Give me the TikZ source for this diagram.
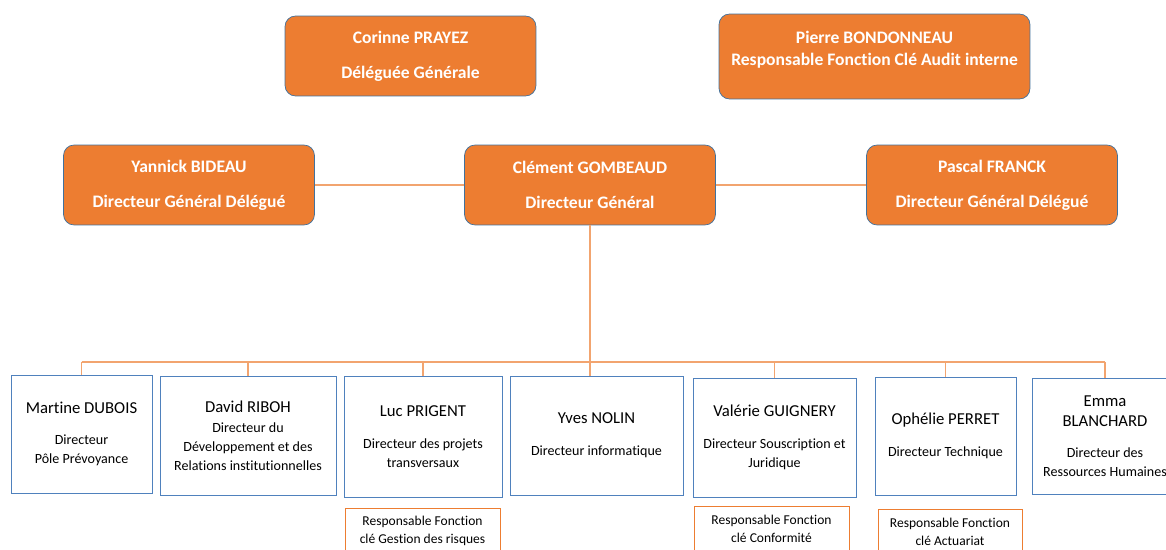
\documentclass[tikz,border=0pt]{standalone}
\usepackage{fontspec}
\setmainfont{Carlito}[Ligatures=NoCommon]
\definecolor{orgorange}{HTML}{ED7D31}
\definecolor{orgedge}{HTML}{41719C}
\definecolor{boxblue}{HTML}{4F81BD}
\newcommand{\who}[1]{{\fontsize{9.5}{11}\selectfont #1}}
\begin{document}
\begin{tikzpicture}[x=0.02cm,y=-0.02cm,
  headbox/.style={draw=orgedge,fill=orgorange,rounded corners=6pt,text=white,font=\fontsize{10}{12}\selectfont\bfseries,align=center,minimum width=5.02cm,minimum height=1.6cm,inner sep=0pt},
  dirbox/.style={draw=boxblue,fill=white,align=center,font=\fontsize{8}{10.8}\selectfont,minimum height=2.38cm,inner sep=0pt},
  keybox/.style={draw=orgorange,fill=white,align=center,font=\fontsize{7.7}{10}\selectfont,minimum height=0.92cm,inner sep=0pt},
  link/.style={draw=orgorange!70!white,line width=0.7pt}]
\useasboundingbox (0,0) rectangle (1166,550);
\clip (0,0) rectangle (1166,550);
\node[headbox] (corinne) at (410.5,56) {Corinne PRAYEZ\\[7.8pt]Déléguée Générale};
\node[headbox,minimum width=6.22cm,minimum height=1.7cm,text depth=9pt] (pierre) at (874.5,56.5) {Pierre BONDONNEAU\\[0.5pt]Responsable Fonction Clé Audit interne};
\node[headbox] (yannick) at (189,185) {Yannick BIDEAU\\[7.8pt]Directeur Général Délégué};
\node[headbox] (clement) at (590,185) {Clément GOMBEAUD\\[7.8pt]Directeur Général};
\node[headbox] (pascal) at (992,185) {Pascal FRANCK\\[7.8pt]Directeur Général Délégué};
\draw[link] (yannick.east) -- (clement.west);
\draw[link] (clement.east) -- (pascal.west);
\node[dirbox,minimum width=2.82cm,minimum height=2.36cm] (martine) at (81.5,434) {\who{Martine DUBOIS}\\[7.2pt]Directeur\\Pôle Prévoyance};
\node[dirbox,minimum width=3.52cm] (david) at (248,435.5) {\who{David RIBOH}\\[0.5pt]Directeur du\\Développement et des\\Relations institutionnelles};
\node[dirbox,minimum width=3.16cm,minimum height=2.42cm] (luc) at (423,436.5) {\who{Luc PRIGENT}\\[7.2pt]Directeur des projets\\transversaux};
\node[dirbox,minimum width=3.46cm] (yves) at (596.5,435.5) {\who{Yves NOLIN}\\[7.2pt]Directeur informatique};
\node[dirbox,minimum width=3.26cm] (valerie) at (774.5,437.5) {\who{Valérie GUIGNERY}\\[7.2pt]Directeur Souscription et\\Juridique};
\node[dirbox,minimum width=2.82cm,minimum height=2.36cm] (ophelie) at (945.5,436) {\who{Ophélie PERRET}\\[7.2pt]Directeur Technique};
\node[dirbox,minimum width=2.9cm,minimum height=2.32cm] (emma) at (1105,436) {\who{Emma}\\[1pt]\who{BLANCHARD}\\[6.5pt]Directeur des\\Ressources Humaines};
\node[keybox,minimum width=3.1cm] (lucKey) at (422.5,531) {Responsable Fonction\\clé Gestion des risques};
\node[keybox,minimum width=3.1cm] (valerieKey) at (771.5,529) {Responsable Fonction\\clé Conformité};
\node[keybox,minimum width=2.88cm] (ophelieKey) at (950,532) {Responsable Fonction\\clé Actuariat};
\coordinate (bus) at (0,362);
\draw[link] (clement.south) -- (clement.south |- yves.north);
\draw[link] (martine.north |- bus) -- (emma.north |- bus);
\foreach \b in {martine,david,luc,valerie,ophelie,emma}
  \draw[link] (\b.north |- bus) -- (\b.north);
\end{tikzpicture}
\end{document}
